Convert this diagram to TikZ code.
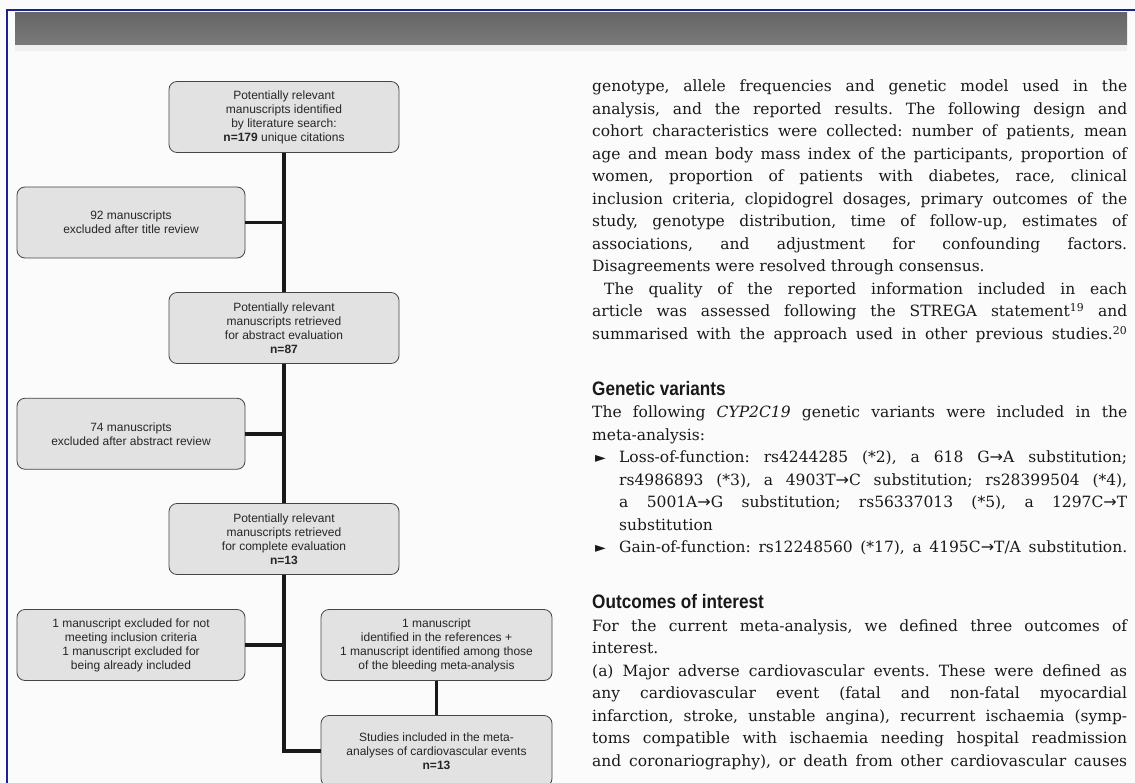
\documentclass[tikz,border=0pt]{standalone}
\usepackage{fontspec}
\setmainfont{DejaVu Serif}
\setsansfont{Liberation Sans}
\newfontfamily\headfont[FakeStretch=0.88]{Liberation Sans}
\newfontfamily\symfont{DejaVu Sans}
\usetikzlibrary{positioning}

\definecolor{framebl}{RGB}{28,36,140}
\definecolor{boxg}{RGB}{226,226,226}
\definecolor{boxedge}{RGB}{70,70,70}
\definecolor{paper}{RGB}{251,251,251}

% text column helpers
\newcommand\fullline[1]{\hbox to\hsize{#1}}
\newcommand\lastline[1]{\hbox to\hsize{#1\hfil}}
\newcommand\headline[1]{\vskip33.5pt\hbox to\hsize{\headfont\bfseries\fontsize{19.5}{22.5}\selectfont #1\hfil}}
\newcommand\rarr{{\symfont\fontsize{16}{16}\selectfont →}}
\newcommand\tri{{\symfont\fontsize{14}{14}\selectfont ►}}

\begin{document}
\begin{tikzpicture}[
            x = 1pt, y = -1pt, % pixel units, y going down
            node distance = 211pt, % distance between main boxes
            flowline/.style = {line width = 3.5pt, black!90}
        ]

        \tikzstyle{flowbox}=[
            draw = boxedge,
            fill = boxg,
            line width = 0.8pt,
            rounded corners = 8pt,
            minimum width = 230pt,
            minimum height = 71pt,
            inner sep = 2pt,
            align = center,
            text = black!85,
            font = \sffamily\fontsize{12}{14}\selectfont
        ]

        % page
        \useasboundingbox (0,0) rectangle (1135,783);
        \fill[paper] (0,0) rectangle (1135,783);
        \shade[top color = black!60, bottom color = black!52] (15,13) rectangle (1127,45);
        \fill[black!6] (15,45) rectangle (1127,51);
        \draw[framebl, line width = 2.5pt] (7,783) -- (7,10) -- (1135,10);

        % main column
        \node[flowbox] (LIT) at (284,117) {Potentially relevant\\manuscripts identified\\by literature search:\\\textbf{n=179} unique citations};
        \node[flowbox] (ABS) [below of = LIT] {Potentially relevant\\manuscripts retrieved\\for abstract evaluation\\\textbf{n=87}};
        \node[flowbox] (FULL) [below of = ABS] {Potentially relevant\\manuscripts retrieved\\for complete evaluation\\\textbf{n=13}};

        \path[flowline] (LIT) edge (ABS);
        \path[flowline] (ABS) edge (FULL);

        % exclusions
        \node[flowbox, minimum width = 228pt] (EX1) at (131,222.5) {92 manuscripts\\excluded after title review};
        \node[flowbox, minimum width = 228pt] (EX2) at (131,433.75) {74 manuscripts\\excluded after abstract review};
        \node[flowbox, minimum width = 228pt] (EX3) at (131,645) {1 manuscript excluded for not\\meeting inclusion criteria\\1 manuscript excluded for\\being already included};

        \draw[flowline] (EX1) -- (EX1 -| LIT);
        \draw[flowline] (EX2) -- (EX2 -| LIT);
        \draw[flowline] (EX3) -- (EX3 -| LIT);

        % additions and final set
        \node[flowbox, minimum width = 231pt] (ADD) at (436.5,645) {1 manuscript\\identified in the references +\\1 manuscript identified among those\\of the bleeding meta-analysis};
        \node[flowbox, minimum width = 231pt] (INC) [below of = ADD, node distance = 106pt] {Studies included in the meta-\\analyses of cardiovascular events\\\textbf{n=13}};

        \draw[flowline] (ADD) -- (INC);
        \draw[flowline] (FULL) |- (INC);

        % text column
        \node[anchor = base west, inner sep = 0pt, text = black!90] (TXT) at (592,92) {\vtop{\hsize=535pt
            \fontsize{15.5}{22.5}\selectfont\frenchspacing
            \fullline{genotype, allele frequencies and genetic model used in the}
            \fullline{analysis, and the reported results. The following design and}
            \fullline{cohort characteristics were collected: number of patients, mean}
            \fullline{age and mean body mass index of the participants, proportion of}
            \fullline{women, proportion of patients with diabetes, race, clinical}
            \fullline{inclusion criteria, clopidogrel dosages, primary outcomes of the}
            \fullline{study, genotype distribution, time of follow-up, estimates of}
            \fullline{associations, and adjustment for confounding factors.}
            \lastline{Disagreements were resolved through consensus.}
            \fullline{\hskip12pt The quality of the reported information included in each}
            \fullline{article was assessed following the STREGA statement\textsuperscript{19} and}
            \fullline{summarised with the approach used in other previous studies.\textsuperscript{20}}
            \headline{Genetic variants}
            \fullline{The following \textit{CYP2C19} genetic variants were included in the}
            \lastline{meta-analysis:}
            \fullline{\hbox to 27pt{\hskip3pt\tri\hss}Loss-of-function: rs4244285 (*2), a 618 G\rarr A substitution;}
            \fullline{\hskip27pt rs4986893 (*3), a 4903T\rarr C substitution; rs28399504 (*4),}
            \fullline{\hskip27pt a 5001A\rarr G substitution; rs56337013 (*5), a 1297C\rarr T}
            \lastline{\hskip27pt substitution}
            \fullline{\hbox to 27pt{\hskip3pt\tri\hss}Gain-of-function: rs12248560 (*17), a 4195C\rarr T/A substitution.}
            \headline{Outcomes of interest}
            \fullline{For the current meta-analysis, we defined three outcomes of}
            \lastline{interest.}
            \fullline{(a) Major adverse cardiovascular events. These were defined as}
            \fullline{any cardiovascular event (fatal and non-fatal myocardial}
            \fullline{infarction, stroke, unstable angina), recurrent ischaemia (symp-}
            \fullline{toms compatible with ischaemia needing hospital readmission}
            \fullline{and coronariography), or death from other cardiovascular causes}
        }};

\end{tikzpicture}
\end{document}
